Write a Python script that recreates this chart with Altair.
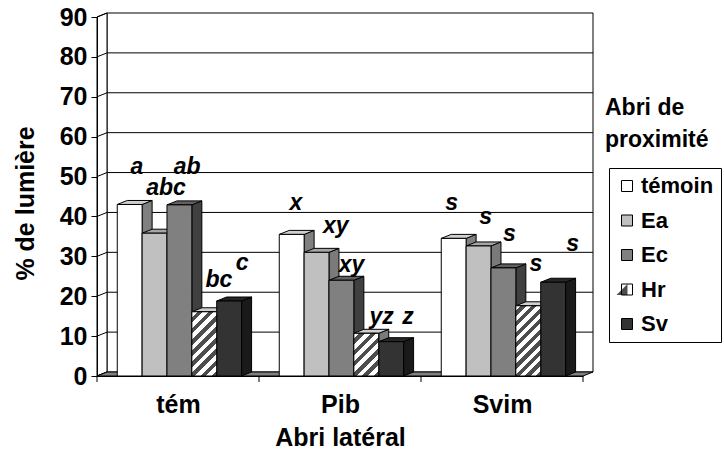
import altair as alt
import pandas as pd

# ---------------- data ----------------
groups = ["tém", "Pib", "Svim"]
series = ["témoin", "Ea", "Ec", "Hr", "Sv"]
temoin = [43.0, 35.5, 34.5]
ea = [35.8, 31.0, 32.6]
ec = [42.9, 24.0, 27.1]
hr = [16.1, 10.7, 17.6]
sv = [18.8, 8.6, 23.5]

letters_tem = ["a", "abc", "ab", "bc", "c"]
letters_pib = ["x", "xy", "xy", "yz", "z"]
letters_svim = ["s", "s", "s", "s", "s"]
# height (in % units) at which each letter sits
letter_level_tem = [52.5, 47.1, 52.5, 24.1, 28.3]
letter_level_pib = [43.4, 37.6, 27.8, 14.9, 14.9]
letter_level_svim = [43.3, 39.8, 35.6, 28.1, 33.1]
# horizontal place of each letter, in bar widths from the first bar's left edge
letter_slot_tem = [0.79, 1.96, 2.81, 4.09, 5.02]
letter_slot_pib = [0.67, 2.27, 2.91, 4.12, 5.18]
letter_slot_svim = [0.42, 1.79, 2.74, 3.81, 5.28]

y_ticks = [0, 10, 20, 30, 40, 50, 60, 70, 80, 90]

# ---------------- layout / style ----------------
W, H = 486, 359
XMAX, YMAX = 3, 90
DEPTH_X, DEPTH_Y = 10, 4
dxu = DEPTH_X * XMAX / W
dyu = DEPTH_Y * YMAX / H
GAP, BW = 0.125, 0.1535
FONT = "Liberation Sans"
FS_AX = 25
FS_LEG = 22
FS_TXT = 23

front_col = {"témoin": "#ffffff", "Ea": "#c0c0c0", "Ec": "#808080", "Hr": "transparent", "Sv": "#333333"}
top_col = {"témoin": "#d0d0d0", "Ea": "#a6a6a6", "Ec": "#606060", "Hr": "#d0d0d0", "Sv": "#262626"}
side_col = {"témoin": "#808080", "Ea": "#7a7a7a", "Ec": "#404040", "Hr": "#7a7a7a", "Sv": "#1a1a1a"}
HATCH = "#4d4d4d"

values = {"témoin": temoin, "Ea": ea, "Ec": ec, "Hr": hr, "Sv": sv}
letters = [letters_tem, letters_pib, letters_svim]
levels = [letter_level_tem, letter_level_pib, letter_level_svim]
slots = [letter_slot_tem, letter_slot_pib, letter_slot_svim]

bars, sides, tops, labs = [], [], [], []
for gi, g in enumerate(groups):
    for si, s in enumerate(series):
        v = values[s][gi]
        x0 = gi + GAP + si * BW
        x1 = x0 + BW
        bid = f"{g}-{s}"
        bars.append(dict(group=g, series=s, bar=bid, value=v, x0=x0, x1=x1))
        sides.append(dict(bar=bid, x=x1, lo=0, hi=v, c=side_col[s]))
        sides.append(dict(bar=bid, x=x1 + dxu, lo=dyu, hi=v + dyu, c=side_col[s]))
        tops.append(dict(bar=bid, y=v, xa=x0, xb=x1, c=top_col[s]))
        tops.append(dict(bar=bid, y=v + dyu, xa=x0 + dxu, xb=x1 + dxu, c=top_col[s]))
    for li, t in enumerate(letters[gi]):
        labs.append(dict(t=t, x=gi + GAP + slots[gi][li] * BW, y=levels[gi][li]))

bars_df = pd.DataFrame(bars)
sides_df = pd.DataFrame(sides)
tops_df = pd.DataFrame(tops)
labs_df = pd.DataFrame(labs)

XS = alt.Scale(domain=[0, XMAX], nice=False, zero=False)
YS = alt.Scale(domain=[0, YMAX], nice=False, zero=False)

label_expr = "[" + ",".join(f"'{g}'" for g in groups) + "][floor(datum.value)]"
X_AX = alt.Axis(values=[0.5, 1.5, 2.5], labelExpr=label_expr, ticks=False, grid=False,
                domainColor="black", domainWidth=1, labelFont=FONT, labelFontSize=FS_AX,
                labelFontWeight="bold", labelColor="black", labelPadding=36,
                labelBaseline="alphabetic", labelAngle=0, labelAlign="center",
                title="Abri latéral", titleFont=FONT, titleFontSize=FS_AX, titleFontWeight="bold",
                titleColor="black", titleX=W / 2, titleY=69, titleBaseline="alphabetic",
                titleAlign="center", zindex=1)
Y_AX = alt.Axis(values=y_ticks, grid=False, domainColor="black", domainWidth=1,
                tickColor="black", tickSize=6, labelFont=FONT, labelFontSize=FS_AX,
                labelFontWeight="bold", labelColor="black", labelPadding=4,
                title="% de lumière", titleFont=FONT, titleFontSize=FS_AX, titleFontWeight="bold",
                titleColor="black", titleX=-72, titleY=186, titleBaseline="middle",
                titleAlign="center", titleAngle=270, zindex=1)


def X(field):
    return alt.X(field, scale=XS, axis=X_AX)


def Y(field):
    return alt.Y(field, scale=YS, axis=Y_AX)


# back wall
wall_df = pd.DataFrame({"x0": [0], "x1": [XMAX], "y0": [0], "y1": [YMAX]})
back_wall = alt.Chart(wall_df).mark_rect(
    fill="white", stroke="black", strokeWidth=1,
    xOffset=DEPTH_X, x2Offset=DEPTH_X, yOffset=-DEPTH_Y, y2Offset=-DEPTH_Y
).encode(x=X("x0:Q"), x2="x1:Q", y=Y("y0:Q"), y2="y1:Q")

grid_df = pd.DataFrame({"t": y_ticks[1:-1], "x0": 0, "x1": XMAX})
grid = alt.Chart(grid_df).mark_rule(
    color="black", strokeWidth=1, xOffset=DEPTH_X, x2Offset=DEPTH_X, yOffset=-DEPTH_Y
).encode(x=X("x0:Q"), x2="x1:Q", y=Y("t:Q"))

lw_df = pd.DataFrame({"x": [0, dxu], "lo": [0, dyu], "hi": [YMAX, YMAX + dyu]})
left_wall = alt.Chart(lw_df).mark_area(fill="white", stroke="black", strokeWidth=1).encode(
    x=X("x:Q"), y=Y("lo:Q"), y2="hi:Q")

diag_df = pd.DataFrame({"t": y_ticks, "x0": 0})
diag = alt.Chart(diag_df).mark_rule(
    color="black", strokeWidth=1, x2Offset=DEPTH_X, y2Offset=-DEPTH_Y
).encode(x=X("x0:Q"), x2="x0:Q", y=Y("t:Q"), y2="t:Q")

fl_df = pd.DataFrame({"y": [0, dyu], "xa": [0, dxu], "xb": [XMAX, XMAX + dxu]})
floor = alt.Chart(fl_df).mark_area(orient="horizontal", fill="#808080", stroke="black",
                                   strokeWidth=1).encode(
    y=Y("y:Q"), x=X("xa:Q"), x2="xb:Q")

side_l = alt.Chart(sides_df).mark_area(stroke="black", strokeWidth=1).encode(
    x=X("x:Q"), y=Y("lo:Q"), y2="hi:Q",
    detail="bar:N", fill=alt.Fill("c:N", scale=None))

top_l = alt.Chart(tops_df).mark_area(orient="horizontal", stroke="black", strokeWidth=1).encode(
    y=Y("y:Q"), x=X("xa:Q"), x2="xb:Q",
    detail="bar:N", fill=alt.Fill("c:N", scale=None))

LEG_X, LEG_Y, LEG_PAD, ROW_PAD = 512, 151, 7, 12.5
SYM = 121
front_l = alt.Chart(bars_df).mark_rect(stroke="black", strokeWidth=1).encode(
    x=X("x0:Q"), x2="x1:Q",
    y=Y("value:Q"), y2=alt.datum(0),
    fill=alt.Fill("series:N", sort=series,
                  scale=alt.Scale(domain=series, range=[front_col[s] for s in series]),
                  legend=alt.Legend(title=None, orient="none", legendX=LEG_X, legendY=LEG_Y,
                                    strokeColor="black", padding=LEG_PAD,
                                    symbolType="square", symbolSize=SYM,
                                    symbolStrokeColor="black", symbolStrokeWidth=1,
                                    symbolOpacity=1, labelFont=FONT, labelFontSize=FS_LEG,
                                    labelFontWeight="bold", labelColor="black",
                                    labelOffset=3, rowPadding=ROW_PAD)))

# hatched front faces for Hr
hr_layers = []
w_px = BW * W / XMAX
for b in bars:
    if b["series"] != "Hr":
        continue
    h_px = b["value"] * H / YMAX
    k = (w_px + h_px) / (w_px ** 2 + h_px ** 2)
    n = max(1, round((w_px + h_px) / 11))
    stops = []
    for j in range(n):
        a = j / n
        m = (j + 0.5) / n
        e = (j + 1) / n
        stops += [{"offset": a, "color": "#ffffff"}, {"offset": m, "color": "#ffffff"},
                  {"offset": m, "color": HATCH}, {"offset": e, "color": HATCH}]
    grad = {"gradient": "linear", "x1": 0, "y1": 0, "x2": k * w_px, "y2": k * h_px,
            "stops": stops}
    hr_layers.append(
        alt.Chart(pd.DataFrame([b])).mark_rect(fill=grad, stroke="black", strokeWidth=1).encode(
            x=X("x0:Q"), x2="x1:Q", y=Y("value:Q"), y2=alt.datum(0)))

# half-dark swatch seen through the (transparent) Hr legend symbol
hr_idx = series.index("Hr")
row_h = FS_LEG + ROW_PAD
hr_swatch = alt.Chart(pd.DataFrame({"a": [0]})).mark_point(
    shape="M 1 -1 L 1 1 L -1 1 Z", filled=True, fill=HATCH, strokeWidth=0, opacity=1,
    size=SYM
).encode(x=alt.value(LEG_X + LEG_PAD + SYM ** 0.5 / 2 + 0.5),
         y=alt.value(LEG_Y + LEG_PAD + FS_LEG / 2 + hr_idx * row_h))

letters_l = alt.Chart(labs_df).mark_text(
    font=FONT, fontSize=FS_TXT, fontWeight="bold", fontStyle="italic", color="black",
    align="center", baseline="middle"
).encode(x=X("x:Q"), y=Y("y:Q"), text="t:N")

xt_df = pd.DataFrame({"x": [0, 1, 2, 3], "y": 0})
xticks = alt.Chart(xt_df).mark_rule(color="black", strokeWidth=1, y2Offset=6).encode(
    x=X("x:Q"), y=Y("y:Q"), y2="y:Q")

leg_title = alt.Chart(pd.DataFrame({"a": [0]})).mark_text(
    font=FONT, fontSize=FS_TXT, fontWeight="bold", color="black", align="left",
    baseline="alphabetic", lineHeight=32
).encode(x=alt.value(508), y=alt.value(98), text=alt.value(["Abri de", "proximité"]))

chart = alt.layer(
    back_wall, grid, left_wall, diag, floor, side_l, top_l, front_l, *hr_layers,
    hr_swatch, letters_l, xticks, leg_title
).properties(
    width=W, height=H,
    autosize=alt.AutoSizeParams(type="none"),
    padding={"left": 97, "top": 17, "right": 724 - 97 - W, "bottom": 455 - 17 - H},
    background="white",
).configure_view(stroke=None)

chart.save("out.html", embed_options={"renderer": "svg", "actions": False})
